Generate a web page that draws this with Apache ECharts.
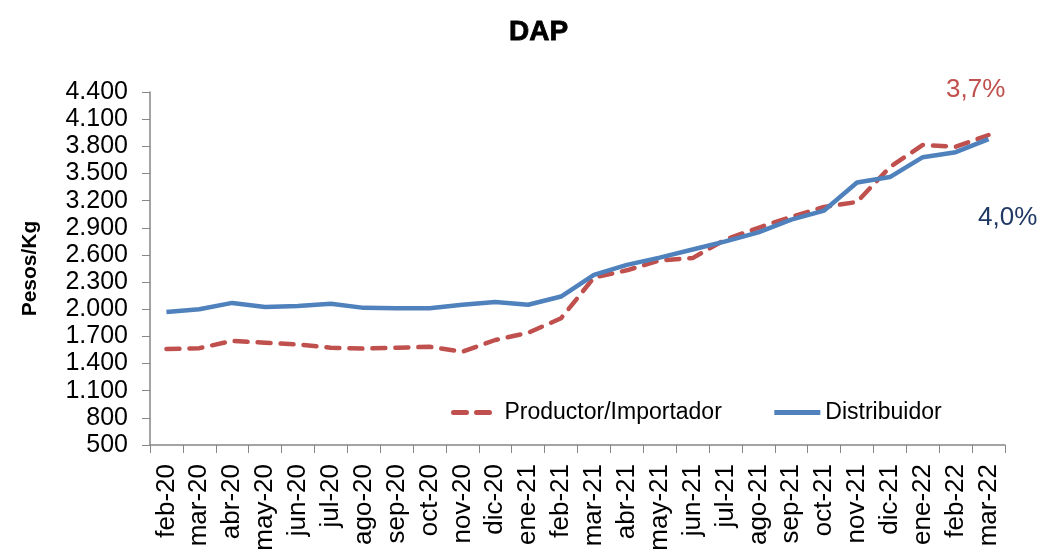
<!DOCTYPE html>
<html><head><meta charset="utf-8">
<script src="https://cdn.jsdelivr.net/npm/echarts@6/dist/echarts.min.js"></script>
<style>html,body{margin:0;padding:0;background:#fff}#c{width:1046px;height:555px}</style>
</head><body><div id="c"></div>
<script>
const categories = ["feb-20","mar-20","abr-20","may-20","jun-20","jul-20","ago-20","sep-20","oct-20","nov-20","dic-20","ene-21","feb-21","mar-21","abr-21","may-21","jun-21","jul-21","ago-21","sep-21","oct-21","nov-21","dic-21","ene-22","feb-22","mar-22"];
const productor = [1560,1570,1650,1630,1610,1575,1565,1575,1585,1530,1660,1740,1900,2350,2430,2540,2565,2770,2900,3020,3130,3185,3570,3815,3795,3925];
const distribuidor = [1970,2000,2070,2025,2035,2060,2015,2010,2010,2050,2080,2050,2140,2380,2490,2570,2660,2750,2850,2990,3090,3400,3460,3680,3735,3880];
const annotations = ["3,7%","4,0%"];
const FONT = "Liberation Sans, Arial, sans-serif";
const chart = echarts.init(document.getElementById('c'));
chart.setOption({
  backgroundColor:'#fff',
  animation:false,
  title:{text:'DAP',left:504,top:13,textStyle:{fontFamily:FONT,fontSize:28,fontWeight:'bold',color:'#000',textBorderColor:'#000',textBorderWidth:0.8}},
  grid:{left:150,right:41,top:92,bottom:110},
  legend:{
    data:['Productor/Importador','Distribuidor'],
    left:446, top:396, itemWidth:46, itemHeight:14, itemGap:50,
    itemStyle:{opacity:0},
    lineStyle:{width:5},
    textStyle:{fontFamily:FONT,fontSize:23,color:'#000'}
  },
  xAxis:{
    type:'category', data:categories, boundaryGap:true,
    axisLine:{lineStyle:{color:'#868686',width:1.5}},
    axisTick:{show:true,alignWithLabel:false,length:8,lineStyle:{color:'#868686'}},
    axisLabel:{rotate:90,interval:0,fontFamily:FONT,fontSize:26,color:'#000',margin:19}
  },
  yAxis:{
    type:'value', min:500, max:4400, interval:300,
    name:'Pesos/Kg', nameLocation:'middle', nameGap:109, nameRotate:90,
    nameTextStyle:{fontFamily:FONT,fontSize:21,fontWeight:'bold',color:'#000'},
    splitLine:{show:false},
    axisLine:{show:true,lineStyle:{color:'#868686',width:1.5}},
    axisTick:{show:true,length:8,lineStyle:{color:'#868686'}},
    axisLabel:{fontFamily:FONT,fontSize:25,color:'#000',margin:22,
      formatter:v=>v.toLocaleString('de-DE')}
  },
  series:[
    {name:'Productor/Importador',type:'line',data:productor,symbol:'none',
     lineStyle:{color:'#C0504D',width:4.5,type:[13,10],cap:'round'},itemStyle:{color:'#C0504D'}},
    {name:'Distribuidor',type:'line',data:distribuidor,symbol:'none',
     lineStyle:{color:'#4F81BD',width:4.5},itemStyle:{color:'#4F81BD'}}
  ],
  graphic:[
    {type:'text',left:946,top:77,style:{text:annotations[0],font:'26px '+FONT,fill:'#C0504D'}},
    {type:'text',left:978,top:205,style:{text:annotations[1],font:'26px '+FONT,fill:'#1F3864'}}
  ]
});
</script></body></html>
